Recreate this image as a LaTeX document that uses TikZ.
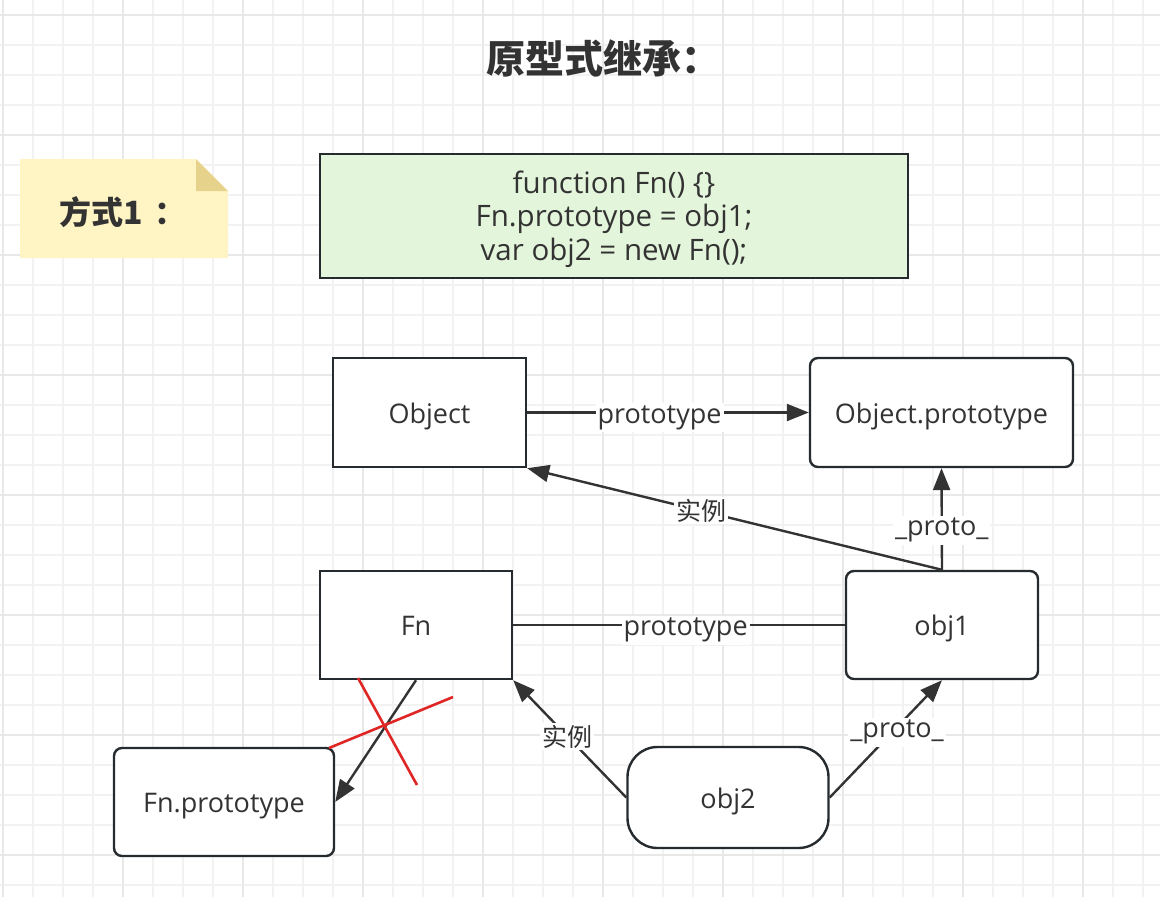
\documentclass[tikz,border=0pt]{standalone}
\usepackage{fontspec}
\setmainfont{Open Sans}
\newfontfamily\cjk{Noto Sans CJK SC}
\usetikzlibrary{arrows.meta,calc}
\definecolor{gridminor}{HTML}{F2F2F2}
\definecolor{gridmajor}{HTML}{E8E8E8}
\definecolor{bordercol}{HTML}{252B2F}
\definecolor{edgecol}{HTML}{333333}
\definecolor{textcol}{HTML}{333333}
\definecolor{notefill}{HTML}{FFF4C3}
\definecolor{notefold}{HTML}{E6D28A}
\definecolor{codefill}{HTML}{E3F5DA}
\definecolor{crossred}{HTML}{E02525}
\tikzset{
  box/.style={draw=bordercol, line width=2.4pt, fill=white, text=textcol,
    font=\fontsize{27}{30}\selectfont, inner sep=0pt, text height=21pt, text depth=0pt},
  sqbox/.style={box},
  rbox/.style={box, rounded corners=8pt},
  pill/.style={box, rounded corners=30pt},
  edge/.style={draw=edgecol, line width=2.4pt},
  arr/.style={edge, -{Triangle[length=22pt,width=17pt]}},
  lbl/.style={fill=white, text=textcol, inner sep=2pt, font=\fontsize{27}{30}\selectfont,
    text height=18pt, text depth=7pt, yshift=-5pt},
  clbl/.style={fill=white, text=textcol, inner sep=2pt, font=\cjk\fontsize{25}{30}\selectfont},
}
\begin{document}
\begin{tikzpicture}[x=1pt,y=-1pt]
\useasboundingbox (0,0) rectangle (1160,897);
\fill[white] (0,0) rectangle (1160,897);
% grid
\foreach \i in {0,...,38} {
  \pgfmathsetmacro{\gx}{3+30*\i}
  \draw[gridminor, line width=1.5pt] (\gx,0) -- (\gx,897);
}
\foreach \j in {0,...,29} {
  \pgfmathsetmacro{\gy}{15+30*\j}
  \draw[gridminor, line width=1.5pt] (0,\gy) -- (1160,\gy);
}
\foreach \i in {0,...,9} {
  \pgfmathsetmacro{\gx}{3+120*\i}
  \draw[gridmajor, line width=1.5pt] (\gx,0) -- (\gx,897);
}
\foreach \j in {0,...,7} {
  \pgfmathsetmacro{\gy}{15+120*\j}
  \draw[gridmajor, line width=1.5pt] (0,\gy) -- (1160,\gy);
}

% title
\node[text=textcol, anchor=west, inner sep=0pt, font=\cjk\bfseries\fontsize{39}{42}\selectfont] (title) at (486,58) {原型式继承：};

% note
\fill[notefill] (20,159) -- (196,159) -- (228,191) -- (228,258) -- (20,258) -- cycle;
\fill[notefold] (196,159) -- (228,191) -- (196,191) -- cycle;
\node[text=textcol, anchor=west, inner sep=0pt, font=\cjk\bfseries\fontsize{32}{34}\selectfont] (note) at (59,212) {方式1\kern12pt：};

% code box
\node[draw=bordercol, line width=2.4pt, fill=codefill,
  minimum width=588pt, minimum height=124pt] (code) at (614,216) {};
\node[text=textcol, align=center, inner sep=0pt,
  font=\fontsize{29.5}{33.5}\selectfont] (codetxt) at (614,219)
  {function Fn() \{\}\\Fn.prototype = obj1;\\var obj2 = new Fn();};

% nodes
\node[sqbox, minimum width=193pt, minimum height=109pt] (Object) at (429.5,412.5) {Object};
\node[rbox, minimum width=263pt, minimum height=109pt] (ObjP) at (941.5,412.5) {Object.prototype};
\node[sqbox, minimum width=192pt, minimum height=108pt] (Fn) at (416,625) {Fn};
\node[rbox, minimum width=192pt, minimum height=108pt] (obj1) at (942,625) {obj1};
\node[rbox, minimum width=220pt, minimum height=108pt] (FnP) at (224,802) {Fn.prototype};
\node[pill, minimum width=201pt, minimum height=101pt] (obj2) at (728,797.5) {obj2};

% edges
\draw[arr] (Object.east) -- node[lbl, pos=0.47] {prototype} (ObjP.west);
\draw[arr] (obj1.north) -- node[clbl, pos=0.58] {实例} (Object.south east);
\draw[arr] (obj1.north) -- node[lbl, pos=0.44] {\_proto\_} (ObjP.south);
\draw[edge] (Fn.east) -- node[lbl, pos=0.52] {prototype} (obj1.west);
\draw[arr] (Fn.south) -- (FnP.east);
\draw[arr] (obj2.west) -- node[clbl, pos=0.52] {实例} (Fn.south east);
\draw[arr] (obj2.east) -- node[lbl, pos=0.6] {\_proto\_} (obj1.south);

% red cross
\coordinate (c1a) at (358,678);
\coordinate (c1b) at (417,785);
\coordinate (c2a) at (329,748);
\coordinate (c2b) at (453,697);
\draw[crossred, line width=2.6pt] (c1a) -- (c1b);
\draw[crossred, line width=2.6pt] (c2a) -- (c2b);
\end{tikzpicture}
\end{document}
